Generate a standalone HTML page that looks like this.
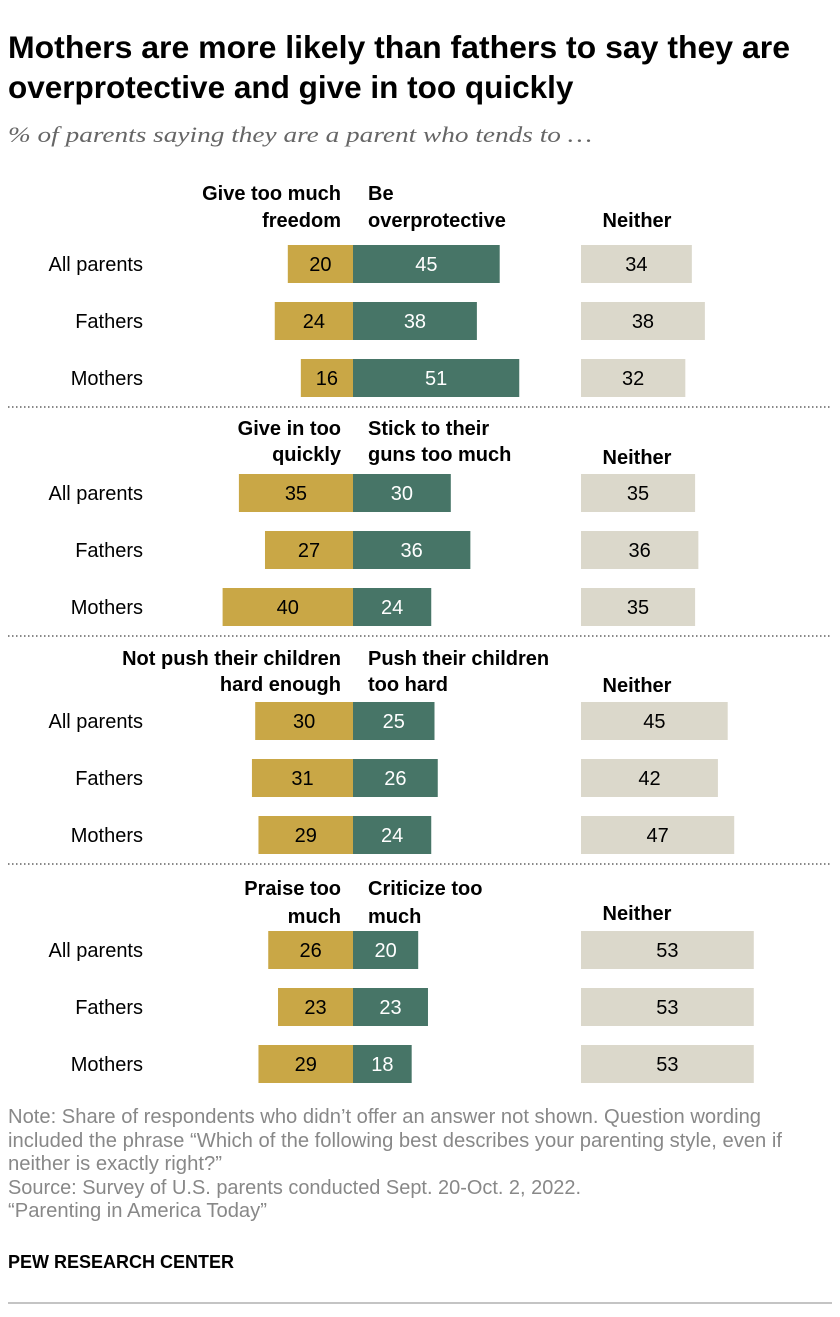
<!DOCTYPE html>
<html><head><meta charset="utf-8"><style>
body{margin:0;background:#fff;width:840px;height:1312px;overflow:hidden;font-family:"Liberation Sans",sans-serif}
svg text{font-family:"Liberation Sans",sans-serif}
</style></head><body>
<svg id="chart" width="840" height="1312" xmlns="http://www.w3.org/2000/svg">
<text x="8" y="58" font-size="31.5" font-weight="bold" fill="#000" textLength="782" lengthAdjust="spacingAndGlyphs">Mothers are more likely than fathers to say they are</text>
<text x="8" y="98" font-size="31.5" font-weight="bold" fill="#000">overprotective and give in too quickly</text>
<text x="8" y="142" font-size="22" font-style="italic" fill="#666" style="font-family:'Liberation Serif',serif" textLength="584" lengthAdjust="spacingAndGlyphs">% of parents saying they are a parent who tends to …</text>
<g id="bars"></g>
<g font-size="20" fill="#888">
<text x="8" y="1123" textLength="753" lengthAdjust="spacingAndGlyphs">Note: Share of respondents who didn’t offer an answer not shown. Question wording</text>
<text x="8" y="1147" textLength="774" lengthAdjust="spacingAndGlyphs">included the phrase “Which of the following best describes your parenting style, even if</text>
<text x="8" y="1170" textLength="214" lengthAdjust="spacingAndGlyphs">neither is exactly right?”</text>
<text x="8" y="1194" textLength="573" lengthAdjust="spacingAndGlyphs">Source: Survey of U.S. parents conducted Sept. 20-Oct. 2, 2022.</text>
<text x="8" y="1217" textLength="259" lengthAdjust="spacingAndGlyphs">“Parenting in America Today”</text>
</g>
<text x="8" y="1268" font-size="18" font-weight="bold" fill="#000">PEW RESEARCH CENTER</text>
<line x1="8" x2="832" y1="1303" y2="1303" stroke="#888" stroke-width="1"/>
</svg>
<script>
const rows = ["All parents","Fathers","Mothers"];
const leftHeaders = [["Give too much","freedom"],["Give in too","quickly"],["Not push their children","hard enough"],["Praise too","much"]];
const rightHeaders = [["Be","overprotective"],["Stick to their","guns too much"],["Push their children","too hard"],["Criticize too","much"]];
const leftVals = [[20,24,16],[35,27,40],[30,31,29],[26,23,29]];
const rightVals = [[45,38,51],[30,36,24],[25,26,24],[20,23,18]];
const neitherVals = [[34,38,32],[35,36,35],[45,42,47],[53,53,53]];

const NS="http://www.w3.org/2000/svg";
const g=document.getElementById('bars');
const xs=v=>v*3.26;
const cx=353, nx=581;
const groupTop=[245,474,702,931];
const headY=[[200,227],[435,461],[665,691],[895,923]];
const neitherY=[227,464,692,920];
function mk(tag,attrs,parent){const e=document.createElementNS(NS,tag);for(const k in attrs)e.setAttribute(k,attrs[k]);(parent||g).appendChild(e);return e;}
function txt(x,y,s,anchor,size,weight,fill,parent){const t=mk('text',{x:x,y:y,'text-anchor':anchor,'font-size':size,'font-weight':weight,fill:fill},parent);t.textContent=s;return t;}
for(let gi=0;gi<4;gi++){
  const lh0=txt(341,headY[gi][0],leftHeaders[gi][0],'end',20,'bold','#000');
  
  
  const lh1=txt(341,headY[gi][1],leftHeaders[gi][1],'end',20,'bold','#000');
  
  
  const rh0=txt(368,headY[gi][0],rightHeaders[gi][0],'start',20,'bold','#000');
  
  
  const rh1=txt(368,headY[gi][1],rightHeaders[gi][1],'start',20,'bold','#000');
  
  
  const nh=txt(nx+56,neitherY[gi],'Neither','middle',20,'bold','#000');
  
  
  for(let r=0;r<3;r++){
    const y=groupTop[gi]+r*57, h=38, ty=y+26;
    const lab=txt(143,ty,rows[r],'end',20,'normal','#000');
    
    
    const lw=xs(leftVals[gi][r]);
    const lb=mk('rect',{x:cx-lw,y:y,width:lw,height:h,fill:'#C9A746'});
    
    
    const lt=txt(cx-lw/2,ty,String(leftVals[gi][r]),'middle',20,'normal','#000');
    
    
    const rw=xs(rightVals[gi][r]);
    const rb=mk('rect',{x:cx,y:y,width:rw,height:h,fill:'#477567'});
    
    
    const rt=txt(cx+rw/2,ty,String(rightVals[gi][r]),'middle',20,'normal','#fff');
    
    
    const nw=xs(neitherVals[gi][r]);
    const nb=mk('rect',{x:nx,y:y,width:nw,height:h,fill:'#DBD8CB'});
    
    
    const nt=txt(nx+nw/2,ty,String(neitherVals[gi][r]),'middle',20,'normal','#000');
    
    
  }
  if(gi<3){
    const sep=mk('line',{x1:8,x2:832,y1:groupTop[gi]+162,y2:groupTop[gi]+162,stroke:'#888','stroke-width':2,'stroke-dasharray':'1.5 2.5'});
    
    
  }
}
</script>
</body></html>
